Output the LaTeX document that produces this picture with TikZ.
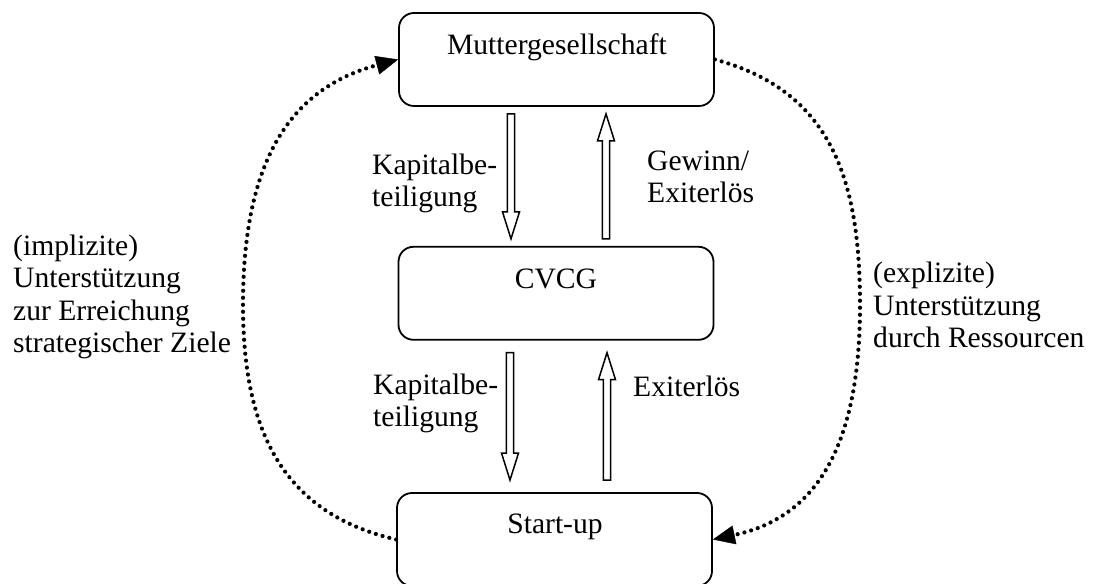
\documentclass[tikz,border=0pt]{standalone}
\usepackage{fontspec}
\setmainfont{Liberation Serif}
\usetikzlibrary{arrows.meta,calc}
\begin{document}
\begin{tikzpicture}[x=1pt,y=1pt,
  box/.style={draw, line width=1.8pt, rounded corners=15pt, minimum width=315pt, minimum height=93pt, inner sep=0pt},
  txt/.style={inner sep=0pt, font=\fontsize{29.6}{32.5}\selectfont},
  lbl/.style={txt, align=left, anchor=base west},
  harrow/.style={line width=1.5pt, line join=miter, to path={let \p1=(\tikztostart), \p2=(\tikztotarget), \n1={ifthenelse(\y2>\y1,1,-1)} in
    (\x1-3.7pt,\y1) -- (\x1-3.7pt,{\y2-(\n1)*27pt}) -- (\x1-8.5pt,{\y2-(\n1)*27pt}) -- (\x1,\y2)
    -- (\x1+8.5pt,{\y2-(\n1)*27pt}) -- (\x1+3.7pt,{\y2-(\n1)*27pt}) -- (\x1+3.7pt,\y1) -- cycle}},
  dotline/.style={line width=4.2pt, line cap=round, dash pattern=on 0pt off 7pt,
    -{Triangle[length=22pt,width=19pt,line width=0.4pt]}}
]
\useasboundingbox (0,0) rectangle (1096,584);
% boxes
\node[box] (m) at (556.5,524.5) {};
\node[box] (c) at (556,290.7) {};
\node[box] (s) at (554.5,44.5) {};
\node[txt, anchor=base] (mt) at (557,529.7) {Muttergesellschaft};
\node[txt, anchor=base] (ct) at (556,295) {CVCG};
\node[txt, anchor=base] (st) at (555,50) {Start-up};
% labels (anchor = baseline of the last line)
\node[lbl] (k1) at (372,377) {Kapitalbe-\\teiligung};
\node[lbl] (g1) at (647,381) {Gewinn/\\Exiterlös};
\node[lbl] (k2) at (373,157) {Kapitalbe-\\teiligung};
\node[lbl] (e2) at (633,187) {Exiterlös};
\node[lbl] (li) at (13,231) {(implizite)\\Unterstützung\\zur Erreichung\\strategischer Ziele};
\node[lbl] (re) at (873,236) {(explizite)\\Unterstützung\\durch Ressourcen};
% hollow arrows
\draw[harrow] ([xshift=-45.5pt,yshift=-7pt]m.south) to ([xshift=-45.5pt,yshift=7pt]c.north);
\draw[harrow] ([xshift=50pt,yshift=7pt]c.north) to ([xshift=50pt,yshift=-7pt]m.south);
\draw[harrow] ([xshift=-46pt,yshift=-12pt]c.south) to ([xshift=-46pt,yshift=12pt]s.north);
\draw[harrow] ([xshift=52.5pt,yshift=12pt]s.north) to ([xshift=52.5pt,yshift=-12pt]c.south);
% dotted support connectors
\coordinate (lm) at (243,279);
\coordinate (rm) at (860,279);
\draw[dotline] (s.west) to[out=167,in=-90,looseness=1.1] (lm) to[out=90,in=195,looseness=1.1] (m.west);
\draw[dotline] (m.east) to[out=-15,in=90,looseness=1.1] (rm) to[out=-90,in=12,looseness=1.1] (s.east);
\end{tikzpicture}
\end{document}
